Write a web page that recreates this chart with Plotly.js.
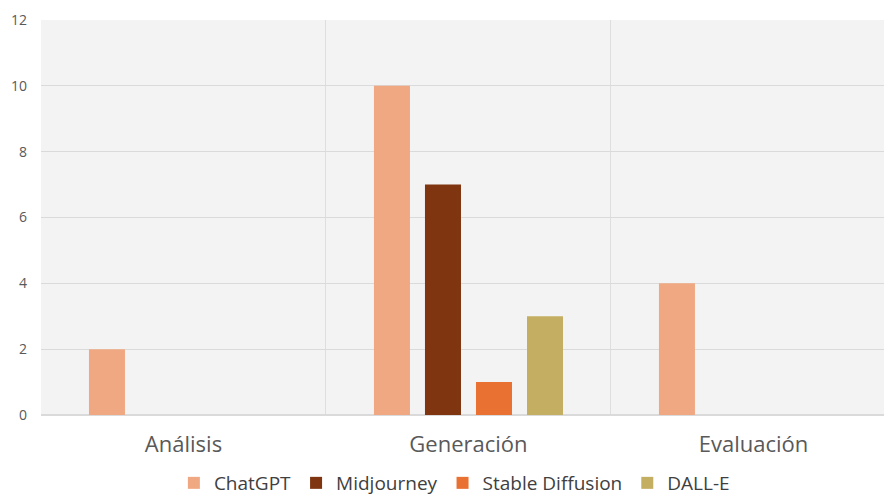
<!DOCTYPE html>
<html>
<head>
<meta charset="utf-8">
<script src="https://cdn.plot.ly/plotly-3.0.1.min.js"></script>
<style>html,body{margin:0;padding:0;background:#fff;overflow:hidden;}#chart{width:884px;height:502px;}</style>
</head>
<body>
<div id="chart"></div>
<script>
const categories = ["Análisis", "Generación", "Evaluación"];
const chatgpt = [2, 10, 4];
const midjourney = [0, 7, 0];
const stableDiffusion = [0, 1, 0];
const dalle = [0, 3, 0];
const seriesNames = ["ChatGPT", "Midjourney", "Stable Diffusion", "DALL-E"];
const seriesColors = ["#F0A882", "#7E3510", "#E97132", "#C4AE62"];
const yTicks = [0, 2, 4, 6, 8, 10, 12];

const values = [chatgpt, midjourney, stableDiffusion, dalle];
const traces = values.map((v, i) => ({
  type: "bar",
  x: categories,
  y: v,
  name: seriesNames[i],
  marker: {color: seriesColors[i]},
  hoverinfo: "x+y+name"
}));

const layout = {
  width: 884, height: 502,
  margin: {l: 41, r: 0, t: 20, b: 87},
  paper_bgcolor: "#ffffff",
  plot_bgcolor: "#F3F3F3",
  font: {family: "Open Sans, sans-serif", color: "#595959"},
  barmode: "group",
  bargap: 0.284,
  bargroupgap: 0.294,
  showlegend: true,
  legend: {
    orientation: "h", x: 0.514, xanchor: "center", xref: "container",
    y: 0, yanchor: "bottom", yref: "container",
    font: {size: 19, color: "#404040"},
    traceorder: "normal", itemwidth: 30
  },
  xaxis: {
    type: "category",
    range: [-0.5, 2.458],
    tickson: "boundaries",
    showgrid: true, gridcolor: "#DEDEDE", gridwidth: 1,
    ticks: "", showline: false, zeroline: false,
    tickfont: {size: 22, color: "#595959"},
    ticklabelstandoff: 14
  },
  yaxis: {
    range: [0, 12],
    tickvals: yTicks,
    showgrid: true, gridcolor: "#DADADA", gridwidth: 1.3,
    zeroline: true, zerolinecolor: "#DADADA", zerolinewidth: 1.3,
    showline: false, ticks: "",
    tickfont: {size: 14, color: "#595959"},
    ticklabelstandoff: 13
  }
};

Plotly.newPlot("chart", traces, layout, {displayModeBar: false, staticPlot: true});
</script>
</body>
</html>
